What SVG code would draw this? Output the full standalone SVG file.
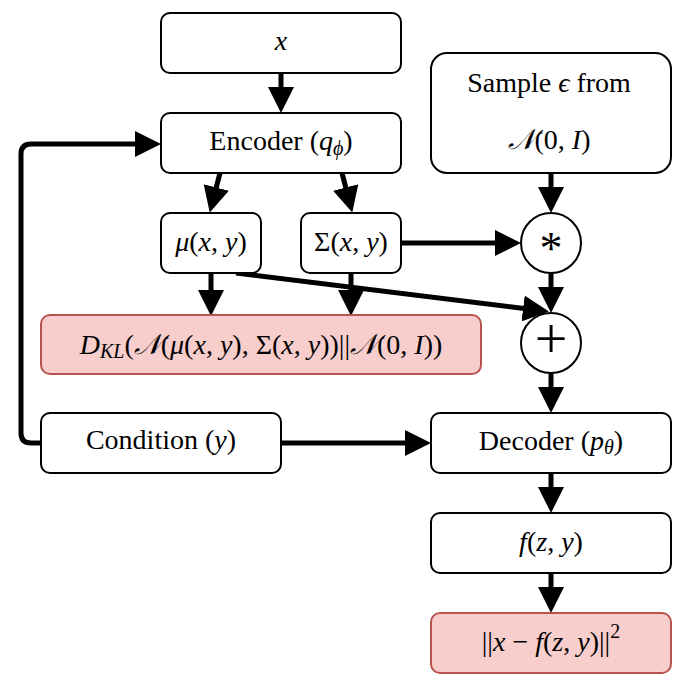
<svg xmlns="http://www.w3.org/2000/svg" width="683" height="687" viewBox="0 0 683 687">
<style>
.box{fill:#fff;stroke:#000;stroke-width:2}
.red{fill:#f8cecc;stroke:#b85450;stroke-width:2}
.t{font-family:"Liberation Serif","DejaVu Serif",serif;font-size:28px;fill:#000;text-anchor:middle}
.i{font-style:italic}
.sub{font-size:20px}
.c{fill:none;stroke:#000;stroke-width:5}
</style>
<defs>
<marker id="ah" viewBox="0 0 26 26" markerWidth="26" markerHeight="26" refX="13" refY="13" orient="auto" markerUnits="userSpaceOnUse">
<path d="M0,0 L26,13 L0,26 z" fill="#000"/>
</marker>
</defs>
<g id="connectors">
<line class="c" x1="281" y1="73" x2="281" y2="100" marker-end="url(#ah)"/>
<line class="c" x1="220" y1="173" x2="213" y2="200" marker-end="url(#ah)"/>
<line class="c" x1="342" y1="173" x2="349" y2="200" marker-end="url(#ah)"/>
<line class="c" x1="551" y1="173" x2="551" y2="200" marker-end="url(#ah)"/>
<line class="c" x1="401" y1="243" x2="508" y2="243" marker-end="url(#ah)"/>
<line class="c" x1="211" y1="273" x2="211" y2="303" marker-end="url(#ah)"/>
<line class="c" x1="351" y1="273" x2="351" y2="303" marker-end="url(#ah)"/>
<line class="c" x1="236" y1="273" x2="536" y2="310" marker-end="url(#ah)"/>
<line class="c" x1="551" y1="273" x2="551" y2="300" marker-end="url(#ah)"/>
<line class="c" x1="551" y1="373" x2="551" y2="400" marker-end="url(#ah)"/>
<line class="c" x1="281" y1="443" x2="418" y2="443" marker-end="url(#ah)"/>
<path class="c" d="M41,443 L31,443 Q21,443 21,433 L21,154 Q21,144 31,144 L148,144" marker-end="url(#ah)"/>
<line class="c" x1="551" y1="473" x2="551" y2="500" marker-end="url(#ah)"/>
<line class="c" x1="551" y1="573" x2="551" y2="600" marker-end="url(#ah)"/>
</g>
<g id="n-x">
<rect class="box" x="161" y="13" width="240" height="60" rx="9"/>
<text class="t i" x="281" y="50">x</text>
</g>
<g id="n-encoder">
<rect class="box" x="161" y="113" width="240" height="60" rx="9"/>
<text class="t" x="281" y="150">Encoder (<tspan class="i">q</tspan><tspan class="i sub" dy="5">ϕ</tspan><tspan dy="-5">)</tspan></text>
</g>
<g id="n-sample">
<rect class="box" x="431" y="53" width="240" height="120" rx="16"/>
<text class="t" x="549" y="92">Sample <tspan class="i">ϵ</tspan> from</text>
<text class="t" x="549" y="149"><tspan class="i">𝒩</tspan>(0, <tspan class="i">I</tspan>)</text>
</g>
<g id="n-mu">
<rect class="box" x="161" y="213" width="100" height="60" rx="9"/>
<text class="t" x="211" y="251"><tspan class="i">μ</tspan>(<tspan class="i">x</tspan>, <tspan class="i">y</tspan>)</text>
</g>
<g id="n-sigma">
<rect class="box" x="301" y="213" width="100" height="60" rx="9"/>
<text class="t" x="351" y="251">Σ(<tspan class="i">x</tspan>, <tspan class="i">y</tspan>)</text>
</g>
<g id="n-mul">
<circle class="box" cx="551" cy="243" r="30"/>
<text class="t" x="551" y="264" style="font-size:46px">*</text>
</g>
<g id="n-plus">
<circle class="box" cx="551" cy="343" r="30"/>
<text class="t" x="551" y="358" style="font-size:58px">+</text>
</g>
<g id="n-kl">
<rect class="red" x="41" y="315" width="440" height="59" rx="9"/>
<text class="t" x="261" y="354"><tspan class="i">D</tspan><tspan class="i sub" dy="4">KL</tspan><tspan dy="-4">(</tspan><tspan class="i">𝒩</tspan>(<tspan class="i">μ</tspan>(<tspan class="i">x</tspan>, <tspan class="i">y</tspan>), Σ(<tspan class="i">x</tspan>, <tspan class="i">y</tspan>))||<tspan class="i">𝒩</tspan>(0, <tspan class="i">I</tspan>))</text>
</g>
<g id="n-condition">
<rect class="box" x="41" y="413" width="240" height="60" rx="9"/>
<text class="t" x="161" y="449">Condition (<tspan class="i">y</tspan>)</text>
</g>
<g id="n-decoder">
<rect class="box" x="431" y="413" width="240" height="60" rx="9"/>
<text class="t" x="551" y="450">Decoder (<tspan class="i">p</tspan><tspan class="i sub" dy="4">θ</tspan><tspan dy="-4">)</tspan></text>
</g>
<g id="n-f">
<rect class="box" x="431" y="513" width="240" height="60" rx="9"/>
<text class="t" x="551" y="551"><tspan class="i">f</tspan>(<tspan class="i">z</tspan>, <tspan class="i">y</tspan>)</text>
</g>
<g id="n-loss">
<rect class="red" x="431" y="613" width="240" height="60" rx="9"/>
<text class="t" x="551" y="651">||<tspan class="i">x</tspan> − <tspan class="i">f</tspan>(<tspan class="i">z</tspan>, <tspan class="i">y</tspan>)||<tspan class="sub" dy="-13">2</tspan></text>
</g>
</svg>
